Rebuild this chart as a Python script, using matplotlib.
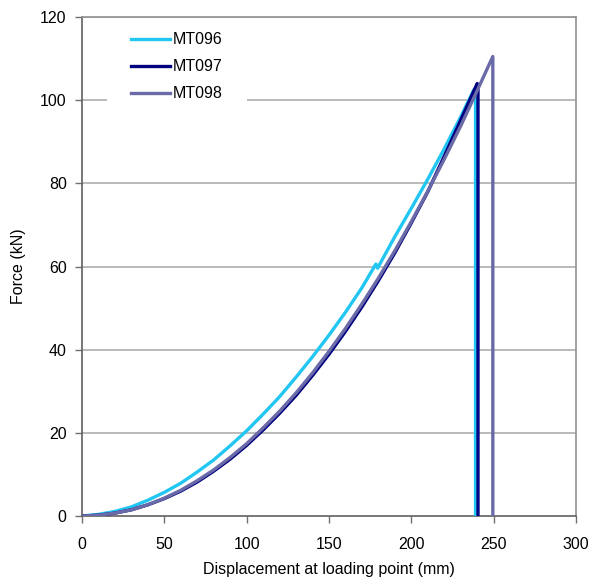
import matplotlib
matplotlib.use('Agg')
import matplotlib.pyplot as plt
from matplotlib.patches import Rectangle

plt.rcParams['font.family'] = ['Liberation Sans', 'DejaVu Sans']

# Force-displacement curves (mm, kN)
mt096_x = [0, 10, 20, 30, 40, 50, 60, 70, 80, 90, 100, 110, 120, 130, 140, 150,
           160, 170, 178.5, 179.5, 190, 200, 210, 220, 230, 238, 239, 239]
mt096_y = [0, 0.4, 1.1, 2.2, 3.8, 5.7, 7.9, 10.6, 13.5, 16.9, 20.5, 24.5, 28.7, 33.4,
           38.3, 43.5, 49.0, 54.9, 60.6, 59.6, 67.2, 74.0, 81.0, 88.3, 96.0, 102.5, 102, 0]

mt097_x = [0, 10, 20, 30, 40, 50, 60, 70, 80, 90, 100, 110, 120, 130, 140, 150,
           160, 170, 180, 190, 200, 210, 220, 230, 240, 240.5, 240.5]
mt097_y = [0, 0.2, 0.7, 1.5, 2.7, 4.2, 6.0, 8.2, 10.8, 13.7, 17.0, 20.7, 24.7, 29.0,
           33.8, 38.9, 44.4, 50.3, 56.6, 63.3, 70.5, 78.0, 86.5, 95.2, 104, 103, 0]

mt098_x = [0, 10, 20, 30, 40, 50, 60, 70, 80, 90, 100, 110, 120, 130, 140, 150,
           160, 170, 180, 190, 200, 210, 220, 230, 240, 249.5, 249.5]
mt098_y = [0, 0.2, 0.7, 1.5, 2.7, 4.3, 6.2, 8.5, 11.1, 14.1, 17.4, 21.2, 25.2, 29.6,
           34.4, 39.6, 45.1, 51.0, 57.2, 63.8, 70.8, 78.1, 85.8, 93.8, 102.3, 110.5, 0]

labels = ['MT096', 'MT097', 'MT098']
colors = ['#22c6f2', '#000080', '#6a6aa8']

fig = plt.figure(figsize=(5.93, 5.80), dpi=100)
ax = fig.add_axes([0.1383, 0.1103, 0.833, 0.8604])

for y in range(20, 121, 20):
    ax.axhline(y, color='#b4b4b4', lw=1.3, zorder=0)

ax.plot(mt096_x, mt096_y, color=colors[0], lw=2.4, label=labels[0], zorder=3)
ax.plot(mt097_x, mt097_y, color=colors[1], lw=2.4, label=labels[1], zorder=3)
ax.plot(mt098_x, mt098_y, color=colors[2], lw=2.4, label=labels[2], zorder=4)

ax.set_xlim(0, 300)
ax.set_ylim(0, 120)
ax.set_xticks(range(0, 301, 50))
ax.set_yticks(range(0, 121, 20))
ax.tick_params(direction='out', length=5, width=1, color='#707070', labelsize=11.5)
ax.tick_params(axis='x', pad=10)
ax.tick_params(axis='y', pad=6)

for side in ['top', 'right']:
    ax.spines[side].set_color('#909090')
    ax.spines[side].set_linewidth(1.2)
for side in ['left', 'bottom']:
    ax.spines[side].set_color('#606060')
    ax.spines[side].set_linewidth(1.2)

ax.set_xlabel('Displacement at loading point (mm)', fontsize=11.5, labelpad=7)
ax.set_ylabel('Force (kN)', fontsize=11.5, labelpad=10)

# white block behind the legend (hides part of the 100 gridline)
ax.add_patch(Rectangle((0.0506, 0.826), 0.284, 0.16, transform=ax.transAxes,
                       facecolor='white', edgecolor='none', zorder=1))

leg = ax.legend(loc='upper left', bbox_to_anchor=(0.09, 0.979), fontsize=11.5,
                handlelength=2.4, handletextpad=0.2, labelspacing=0.75,
                frameon=False, borderpad=0.3, borderaxespad=0)
leg.set_zorder(5)

fig.savefig('out.png', dpi=100)
